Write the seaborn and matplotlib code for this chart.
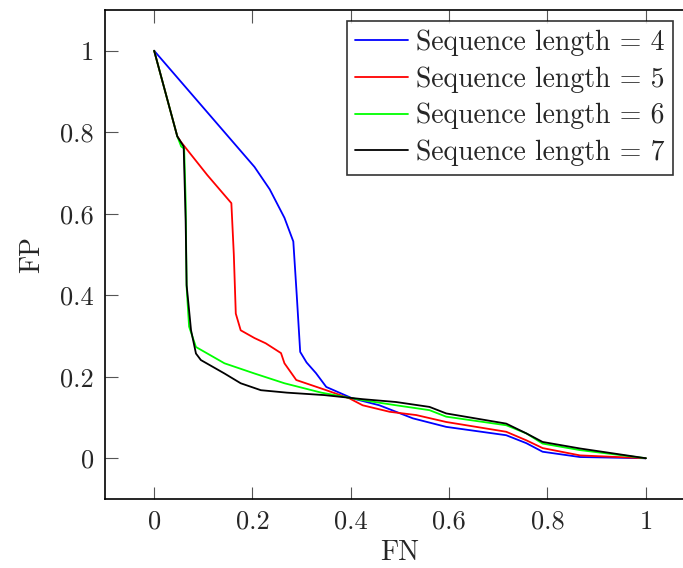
import numpy as np
import pandas as pd
import matplotlib
matplotlib.use("Agg")
import matplotlib.pyplot as plt
import seaborn as sns
from matplotlib.lines import Line2D

# ---- data ----
fn_4 = [0.0, 0.204, 0.235, 0.265, 0.283, 0.290, 0.297, 0.310, 0.329, 0.350, 0.403, 0.458, 0.526, 0.594, 0.716, 0.757, 0.790, 0.866, 1.0]
fp_4 = [1.0, 0.715, 0.66, 0.59, 0.532, 0.40, 0.261, 0.235, 0.209, 0.175, 0.147, 0.130, 0.098, 0.077, 0.0565, 0.037, 0.016, 0.003, 0.0]

fn_5 = [0.0, 0.047, 0.054, 0.108, 0.157, 0.162, 0.166, 0.176, 0.204, 0.227, 0.258, 0.265, 0.289, 0.350, 0.397, 0.424, 0.479, 0.533, 0.594, 0.716, 0.757, 0.790, 0.866, 1.0]
fp_5 = [1.0, 0.79, 0.777, 0.695, 0.626, 0.50, 0.355, 0.314, 0.295, 0.282, 0.258, 0.233, 0.192, 0.167, 0.147, 0.130, 0.114, 0.106, 0.089, 0.065, 0.044, 0.025, 0.007, 0.0]

fn_6 = [0.0, 0.047, 0.055, 0.061, 0.064, 0.066, 0.071, 0.085, 0.143, 0.204, 0.265, 0.340, 0.424, 0.492, 0.560, 0.594, 0.716, 0.757, 0.790, 0.866, 1.0]
fp_6 = [1.0, 0.79, 0.765, 0.76, 0.634, 0.42, 0.323, 0.273, 0.233, 0.208, 0.184, 0.161, 0.1425, 0.130, 0.118, 0.102, 0.081, 0.061, 0.036, 0.020, 0.0]

fn_7 = [0.0, 0.047, 0.060, 0.064, 0.066, 0.075, 0.085, 0.095, 0.143, 0.176, 0.217, 0.270, 0.346, 0.424, 0.492, 0.560, 0.594, 0.716, 0.757, 0.790, 0.866, 1.0]
fp_7 = [1.0, 0.79, 0.765, 0.585, 0.425, 0.314, 0.257, 0.241, 0.208, 0.184, 0.167, 0.161, 0.155, 0.145, 0.138, 0.126, 0.110, 0.085, 0.061, 0.040, 0.024, 0.0]

series_names = ["Sequence length = 4", "Sequence length = 5", "Sequence length = 6", "Sequence length = 7"]
series_fn = [fn_4, fn_5, fn_6, fn_7]
series_fp = [fp_4, fp_5, fp_6, fp_7]
series_colors = ["#0000ff", "#ff0000", "#00ff00", "#000000"]

xticks = [0, 0.2, 0.4, 0.6, 0.8, 1]
yticks = [0, 0.2, 0.4, 0.6, 0.8, 1]
tick_labels = ["0", "0.2", "0.4", "0.6", "0.8", "1"]

frames = []
for name, xs, ys in zip(series_names, series_fn, series_fp):
    frames.append(pd.DataFrame({"FN": xs, "FP": ys, "series": name}))
df = pd.concat(frames, ignore_index=True)

sns.set_theme(style="white")
plt.rcParams["font.family"] = ["cmr10", "DejaVu Serif"]
plt.rcParams["mathtext.fontset"] = "cm"
plt.rcParams["axes.unicode_minus"] = False

W, H = 683, 568
fig = plt.figure(figsize=(W / 100, H / 100), dpi=100)
left, right, top, bottom = 105, 695, 10, 499
ax = fig.add_axes([left / W, (H - bottom) / H, (right - left) / W, (bottom - top) / H])

sns.lineplot(data=df, x="FN", y="FP", hue="series", palette=series_colors,
             sort=False, estimator=None, units="series", linewidth=1.3, ax=ax,
             legend=False)

ax.set_xlim(-0.1, 1.1)
ax.set_ylim(-0.1, 1.1)
ax.set_xticks(xticks)
ax.set_yticks(yticks)
ax.set_xticklabels(tick_labels, fontsize=19)
ax.set_yticklabels(tick_labels, fontsize=19)
ax.tick_params(direction="in", length=9, width=0.8, color="#555555",
               top=True, right=True, bottom=True, left=True, pad=8)
ax.tick_params(axis="y", pad=8)
for s in ax.spines.values():
    s.set_color("black")
    s.set_linewidth(1.2)
    s.set_visible(True)

ax.set_xlabel("FN", fontsize=20, labelpad=4)
ax.set_ylabel("FP", fontsize=20, labelpad=11)

handles = [Line2D([0], [0], color=c, lw=1.3) for c in series_colors]
leg = ax.legend(handles, series_names, loc="upper left",
                bbox_to_anchor=((347 - left) / (right - left), 1 - (21 - top) / (bottom - top)),
                fontsize=20, frameon=True, fancybox=False, edgecolor="black",
                handlelength=1.9, handletextpad=0.3, labelspacing=0.37,
                borderpad=0.3, borderaxespad=0)
leg.get_frame().set_linewidth(1.2)

fig.savefig("out.png", dpi=100)
